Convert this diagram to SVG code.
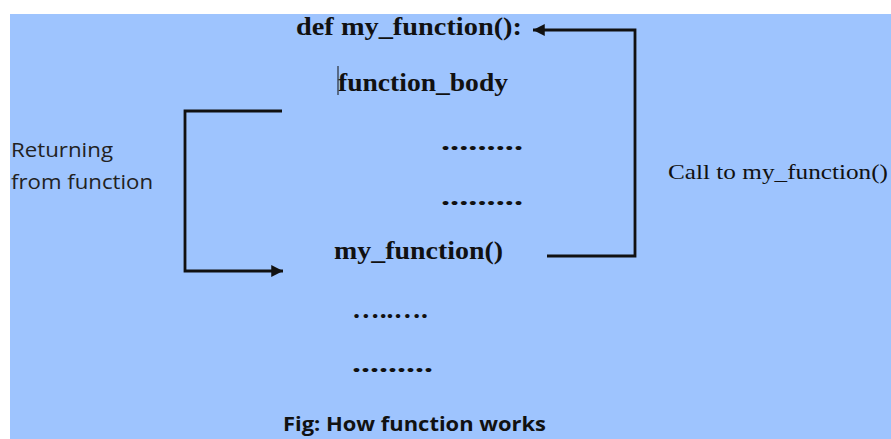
<svg xmlns="http://www.w3.org/2000/svg" width="891" height="439" viewBox="0 0 891 439">
<defs>
<style>
.code{font-family:"Liberation Serif","Times New Roman",serif;font-weight:bold;font-size:25px;fill:#111}
.dots{font-family:"Liberation Serif","Times New Roman",serif;font-weight:bold;font-size:25px;fill:#111}
.side{font-family:"Open Sans","Liberation Sans",sans-serif;font-size:20px;fill:#222}
.call{font-family:"Liberation Serif","Times New Roman",serif;font-size:22px;fill:#111}
.cap{font-family:"Open Sans","Liberation Sans",sans-serif;font-weight:bold;font-size:19px;fill:#111}
.conn{fill:none;stroke:#111;stroke-width:2.8}
</style>
<marker id="ah" viewBox="0 0 10 10" refX="10" refY="5" markerWidth="5.5" markerHeight="4.2" markerUnits="strokeWidth" orient="auto">
<path d="M0,0 L10,5 L0,10 z" fill="#111"/>
</marker>
</defs>
<rect x="0" y="0" width="891" height="439" fill="#ffffff"/>
<rect x="10" y="14" width="881" height="425" fill="#9EC4FE"/>

<g id="def-line"><text class="code" x="296" y="35" textLength="226" lengthAdjust="spacingAndGlyphs">def my_function():</text></g>
<g id="body-line">
<line x1="338" y1="66" x2="338" y2="95" stroke="#111" stroke-width="1"/>
<text class="code" x="338" y="91" textLength="170" lengthAdjust="spacingAndGlyphs">function_body</text>
</g>
<g id="dots1"><text class="dots" x="441" y="150" textLength="82" lengthAdjust="spacingAndGlyphs">.........</text></g>
<g id="dots2"><text class="dots" x="441" y="205" textLength="82" lengthAdjust="spacingAndGlyphs">.........</text></g>
<g id="call-line"><text class="code" x="334" y="259" textLength="169" lengthAdjust="spacingAndGlyphs">my_function()</text></g>
<g id="dots3"><text class="dots" x="352" y="318" textLength="76" lengthAdjust="spacingAndGlyphs">…..….</text></g>
<g id="dots4"><text class="dots" x="352" y="372" textLength="81" lengthAdjust="spacingAndGlyphs">.........</text></g>

<g id="returning-label">
<text class="side" x="11" y="157" textLength="102" lengthAdjust="spacingAndGlyphs">Returning</text>
<text class="side" x="11" y="189" textLength="142" lengthAdjust="spacingAndGlyphs">from function</text>
</g>
<g id="call-label"><text class="call" x="668" y="179" textLength="220" lengthAdjust="spacingAndGlyphs">Call to my_function()</text></g>
<g id="caption"><text class="cap" x="283" y="431" textLength="263" lengthAdjust="spacingAndGlyphs">Fig: How function works</text></g>

<g id="connectors">
<polyline class="conn" points="282,111 185,111 185,271 283,271" marker-end="url(#ah)"/>
<polyline class="conn" points="547,256 635,256 635,30 533,30" marker-end="url(#ah)"/>
</g>
</svg>
